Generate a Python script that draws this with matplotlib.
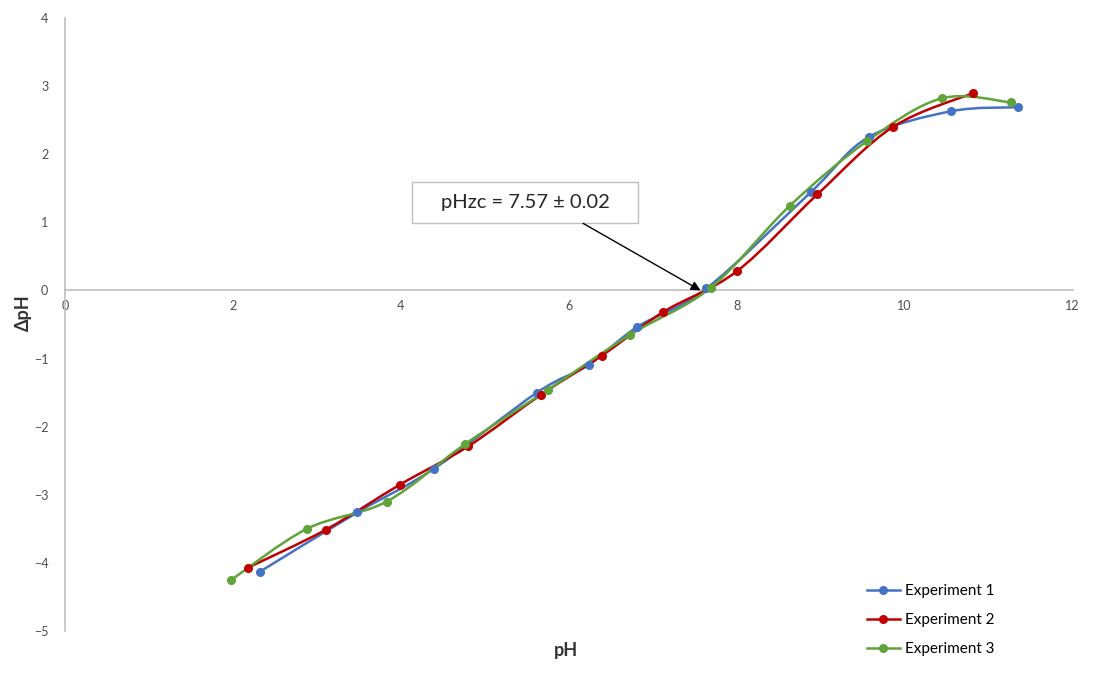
import matplotlib.pyplot as plt
from matplotlib.path import Path
from matplotlib.patches import PathPatch, Rectangle
from matplotlib.lines import Line2D
import numpy as np

plt.rcParams['font.family'] = ['Lato', 'DejaVu Sans']

# pH inicial vs. variação de pH para as três repetições
ph_exp1 = [2.32, 3.48, 4.39, 5.62, 6.24, 6.81, 7.64, 8.88, 9.57, 10.55, 11.35]
dph_exp1 = [-4.13, -3.26, -2.62, -1.50, -1.09, -0.54, 0.03, 1.44, 2.25, 2.63, 2.69]

ph_exp2 = [2.18, 3.11, 3.99, 4.80, 5.67, 6.39, 7.12, 8.00, 8.96, 9.86, 10.82]
dph_exp2 = [-4.07, -3.51, -2.85, -2.29, -1.53, -0.96, -0.32, 0.28, 1.41, 2.40, 2.90]

ph_exp3 = [1.98, 2.88, 3.83, 4.76, 5.75, 6.73, 7.69, 8.63, 9.55, 10.44, 11.27]
dph_exp3 = [-4.25, -3.50, -3.10, -2.26, -1.46, -0.65, 0.04, 1.24, 2.19, 2.82, 2.76]

series = [
    ("Experiment 1", ph_exp1, dph_exp1, "#4472C4"),
    ("Experiment 2", ph_exp2, dph_exp2, "#C00000"),
    ("Experiment 3", ph_exp3, dph_exp3, "#5FA33A"),
]

pzc = 7.57
pzc_err = 0.02


def curva_suave(x, y):
    # curva de Bezier passando pelos pontos (estilo "linha suavizada")
    p = np.column_stack([x, y])
    ext = np.vstack([p[0], p, p[-1]])
    verts = [p[0]]
    codes = [Path.MOVETO]
    for i in range(len(p) - 1):
        p0, p1, p2, p3 = ext[i], ext[i + 1], ext[i + 2], ext[i + 3]
        c1 = p1 + (p2 - p0) / 6.0
        c2 = p2 - (p3 - p1) / 6.0
        verts += [c1, c2, p2]
        codes += [Path.CURVE4] * 3
    return Path(verts, codes)


fig = plt.figure(figsize=(11.08, 6.79), dpi=100)
ax = fig.add_axes([0.0587, 0.0707, 0.9093, 0.9028])

handles = []
for nome, x, y, cor in series:
    ax.add_patch(PathPatch(curva_suave(x, y), facecolor='none',
                           edgecolor=cor, lw=1.8, zorder=2))
    ax.plot(x, y, 'o', color=cor, markersize=5.5, zorder=3)
    handles.append(Line2D([], [], color=cor, lw=1.8, marker='o',
                          markersize=5.5, label=nome))

ax.set_xlim(0, 12)
ax.set_ylim(-5, 4)
ax.set_xticks(range(0, 13, 2))
ax.set_yticks(range(-5, 5))

ax.spines['top'].set_visible(False)
ax.spines['right'].set_visible(False)
ax.spines['bottom'].set_position(('data', 0))
ax.spines['left'].set_color('#BFBFBF')
ax.spines['bottom'].set_color('#BFBFBF')
ax.spines['left'].set_linewidth(1.2)
ax.spines['bottom'].set_linewidth(1.2)
ax.tick_params(axis='both', length=0, labelsize=9, labelcolor='#4D4D4D')
ax.tick_params(axis='y', pad=12)
ax.tick_params(axis='x', pad=7)

ax.set_xlabel('pH', fontsize=13, fontweight='bold', color='#333333')
ax.xaxis.set_label_coords(0.497, -0.018)
ax.set_ylabel('ΔpH', fontsize=13, fontweight='bold', color='#333333')
ax.yaxis.set_label_coords(-0.033, 0.52)

# caixa com o ponto de carga zero e seta até o cruzamento
ax.add_patch(Rectangle((4.13, 0.985), 2.70, 0.605, facecolor='white',
                       edgecolor='#BFBFBF', lw=1, zorder=4))
ax.text(5.48, 1.29, f'pHzc = {pzc:.2f} ± {pzc_err:.2f}', fontsize=14.5,
        color='#262626', ha='center', va='center', zorder=5)
ax.annotate('', xy=(pzc, 0.0), xytext=(6.17, 0.985),
            arrowprops=dict(arrowstyle='-|>', color='black', lw=1,
                            mutation_scale=14, shrinkA=0, shrinkB=0),
            zorder=5)

ax.legend(handles=handles, loc='lower right', frameon=False, fontsize=11,
          bbox_to_anchor=(0.936, -0.064), labelspacing=1.0, handlelength=2.2,
          handletextpad=0.3)

fig.savefig('out.png', dpi=100, facecolor='white')
